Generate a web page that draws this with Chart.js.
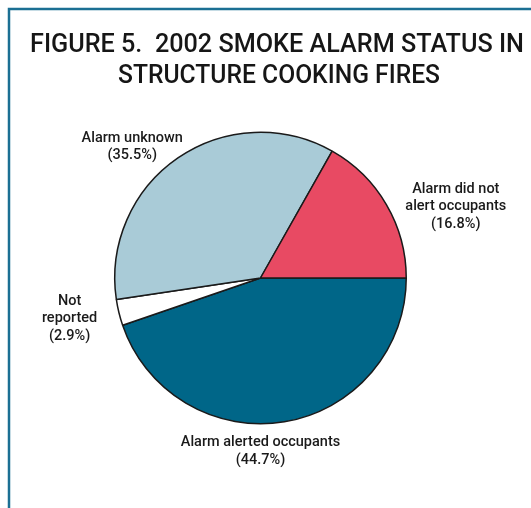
<!DOCTYPE html>
<html>
<head>
<meta charset="utf-8">
<script src="https://cdn.jsdelivr.net/npm/chart.js@4"></script>
<style>
  html, body { margin: 0; padding: 0; background: #ffffff; }
  #wrap { width: 531px; height: 508px; position: relative; }
</style>
</head>
<body>
<div id="wrap"><canvas id="c" width="531" height="508"></canvas></div>
<script>
// ---- data (clockwise from 3 o'clock) ----
const categories = ["Alarm alerted occupants", "Not reported", "Alarm unknown", "Alarm did not alert occupants"];
const values = [44.7, 2.9, 35.5, 16.8];
const labelLines = [
  ["Alarm alerted occupants", "(44.7%)"],
  ["Not", "reported", "(2.9%)"],
  ["Alarm unknown", "(35.5%)"],
  ["Alarm did not", "alert occupants", "(16.8%)"]
];
const titleLines = ["FIGURE 5.  2002 SMOKE ALARM STATUS IN", "STRUCTURE COOKING FIRES"];
const colors = ["#006688", "#ffffff", "#a9cbd7", "#e84a63"];

// label anchor offsets relative to pie centre, in units of radius
const labelOffsets = [
  [0.0, 1.19],
  [-1.31, 0.28],
  [-0.88, -0.90],
  [1.34, -0.49]
];

const framePlugin = {
  id: 'frame',
  beforeDraw(chart) {
    const ctx = chart.ctx;
    ctx.save();
    ctx.fillStyle = '#ffffff';
    ctx.fillRect(0, 0, chart.width, chart.height);
    ctx.strokeStyle = '#1b6f93';
    ctx.lineWidth = 2.5;
    ctx.beginPath();
    ctx.moveTo(531, 9);
    ctx.lineTo(9, 9);
    ctx.lineTo(9, 508);
    ctx.stroke();
    // title
    ctx.fillStyle = '#161616';
    ctx.font = '500 26px Roboto, "Liberation Sans", sans-serif';
    ctx.textAlign = 'center';
    ctx.textBaseline = 'alphabetic';
    ctx.fillText(titleLines[0], 277, 52, 494);
    ctx.fillText(titleLines[1], 279, 83, 322);
    ctx.restore();
  }
};

const labelPlugin = {
  id: 'sliceLabels',
  afterDatasetsDraw(chart) {
    const ctx = chart.ctx;
    const meta = chart.getDatasetMeta(0);
    ctx.save();
    ctx.fillStyle = '#1a1a1a';
    ctx.font = '500 14.5px Roboto, "Liberation Sans", Arial, sans-serif';
    ctx.textAlign = 'center';
    ctx.textBaseline = 'middle';
    meta.data.forEach((arc, i) => {
      const r = arc.outerRadius;
      const cx = arc.x + labelOffsets[i][0] * r;
      const cy = arc.y + labelOffsets[i][1] * r;
      const lines = labelLines[i];
      const lh = 17.5;
      const top = cy - (lines.length - 1) * lh / 2;
      lines.forEach((t, k) => ctx.fillText(t, cx, top + k * lh));
    });
    ctx.restore();
  }
};

new Chart(document.getElementById('c'), {
  type: 'pie',
  data: {
    labels: categories,
    datasets: [{
      data: values,
      backgroundColor: colors,
      borderColor: '#1a1a1a',
      borderWidth: 1.5
    }]
  },
  options: {
    responsive: false,
    animation: false,
    rotation: 90,
    layout: { padding: { left: 114, right: 124, top: 131, bottom: 83 } },
    plugins: {
      legend: { display: false },
      tooltip: { enabled: false },
      title: { display: false }
    }
  },
  plugins: [framePlugin, labelPlugin]
});
</script>
</body>
</html>
